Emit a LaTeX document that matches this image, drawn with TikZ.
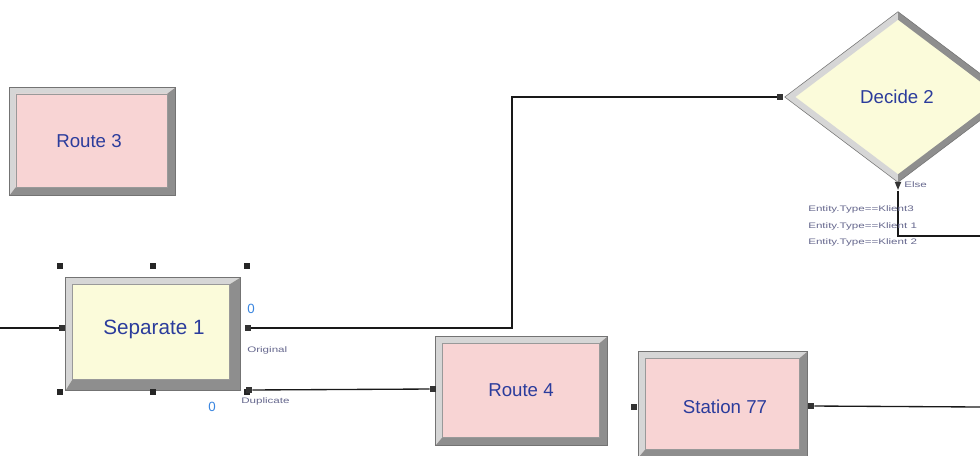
\documentclass[tikz,border=0pt]{standalone}
\usepackage{fontspec}
\usepackage{graphicx}
\setmainfont{Liberation Sans}
\newcommand\widetxt[1]{\scalebox{1.45}[1]{#1}}
\usetikzlibrary{shapes.geometric}
\definecolor{pinkfill}{HTML}{F8D4D4}
\definecolor{yelfill}{HTML}{FBFBDA}
\definecolor{lbl}{HTML}{2B3C9C}
\definecolor{bevL}{HTML}{D6D6D6}
\definecolor{bevD}{HTML}{8E8E8E}
\definecolor{zero}{HTML}{3A86E0}
\definecolor{tinytxt}{HTML}{66688E}
\tikzset{
 module/.style={rectangle, inner sep=0pt, text=lbl, font=\fontsize{14}{16}\selectfont},
 modtext/.style={inner sep=0pt, text=lbl, font=\fontsize{14}{16}\selectfont},
 conn/.style={draw=black!90, line width=1pt},
 port/.style={fill=black!80, minimum size=4.5pt, inner sep=0pt, rectangle},
 handle/.style={fill=black!85, minimum size=5pt, inner sep=0pt, rectangle},
 portlbl/.style={font=\fontsize{6}{7}\selectfont, text=tinytxt, inner sep=0pt, anchor=west},
 zerolbl/.style={font=\fontsize{10}{11}\selectfont, text=zero, inner sep=0pt},
}
\newcommand\bevel[3]{%
 \fill[bevL] (#1.north west) -- (#1.north east) -- ([shift={(-#3,-#2)}]#1.north east) -- ([shift={(#2,-#2)}]#1.north west) -- ([shift={(#2,#3)}]#1.south west) -- (#1.south west) -- cycle;
 \fill[bevD] (#1.south east) -- (#1.north east) -- ([shift={(-#3,-#2)}]#1.north east) -- ([shift={(-#3,#3)}]#1.south east) -- ([shift={(#2,#3)}]#1.south west) -- (#1.south west) -- cycle;
 \draw[black!55, line width=0.4pt] (#1.north west) rectangle (#1.south east);
 \draw[black!40, line width=0.3pt] ([shift={(#2,-#2)}]#1.north west) rectangle ([shift={(-#3,#3)}]#1.south east);
}
\begin{document}
\begin{tikzpicture}[x=0.75pt,y=-0.75pt]
\useasboundingbox (0,0) rectangle (980,456);
\fill[white] (0,0) rectangle (980,456);
\clip (0,0) rectangle (980,456);

% Route 3
\node[module, fill=pinkfill, minimum width=123.75pt, minimum height=80.25pt] (route3) at (92.5,141.5) {};
\bevel{route3}{4.5pt}{6pt}
\node[modtext] (route3txt) at (89,141) {Route 3};

% Separate 1
\node[module, fill=yelfill, minimum width=130.5pt, minimum height=84pt] (sep1) at (153,334) {};
\bevel{sep1}{5pt}{8pt}
\node[modtext, font=\fontsize{15.5}{17}\selectfont] (sep1txt) at (154,329) {Separate 1};

% Route 4
\node[module, fill=pinkfill, minimum width=128.25pt, minimum height=81pt] (route4) at (521.5,391) {};
\bevel{route4}{5pt}{6pt}
\node[modtext] (route4txt) at (521,390) {Route 4};

% Station 77
\node[module, fill=pinkfill, minimum width=126pt, minimum height=78.75pt] (st77) at (723,404.5) {};
\bevel{st77}{5pt}{6pt}
\node[modtext] (st77txt) at (725,407) {Station 77};

% Decide 2
\node[diamond, inner sep=0pt, fill=yelfill, minimum width=169.5pt, minimum height=127.5pt, aspect=1.33] (dec2) at (898,97) {};
\fill[bevL] (dec2.west) -- (dec2.north) -- ([yshift=-6pt]dec2.north) -- ([xshift=8pt]dec2.west) -- ([yshift=6pt]dec2.south) -- (dec2.south) -- cycle;
\fill[bevD] (dec2.east) -- (dec2.north) -- ([yshift=-6pt]dec2.north) -- ([xshift=-8pt]dec2.east) -- ([yshift=6pt]dec2.south) -- (dec2.south) -- cycle;
\draw[black!55, line width=0.4pt] (dec2.west) -- (dec2.north) -- (dec2.east) -- (dec2.south) -- cycle;
\node[modtext] (dec2txt) at (897,97) {Decide 2};

% selection handles
\node[handle] (h1) at (60,266) {};
\node[handle] (h2) at (153,266) {};
\node[handle] (h3) at (247,266) {};
\node[handle] (h4) at (60,392) {};
\node[handle] (h5) at (153,392) {};
\node[handle] (h6) at (247,392) {};

% ports
\node[port] (sep1in) at (62,328) {};
\node[port] (sep1orig) at (248,328) {};
\node[port] (sep1dup) at (249,390) {};
\node[port] (r4in) at (433,389) {};
\node[port] (st77in) at (634,407) {};
\node[port] (st77out) at (811,406) {};
\node[port] (dec2in) at (780,97) {};
\node[isosceles triangle, shape border rotate=-90, fill=black!80, minimum size=5pt, inner sep=0pt] (elseport) at (898,184) {};

% connector endpoints
\coordinate (inL) at (0,328);
\coordinate (bend1) at (512,97);
\coordinate (stR) at (980,407);
\coordinate (elseR) at (980,236);

% connectors
\draw[conn] (inL) -- (sep1in);
\draw[conn] (sep1orig) -| (bend1) -- (dec2in);
\draw[conn] (sep1dup) -- (r4in);
\draw[conn] (st77out) -- (stR);
\draw[conn] (elseport) |- (elseR);

% labels
\node[zerolbl] (z1) at (251,309) {0};
\node[zerolbl] (z2) at (212,407) {0};
\node[portlbl] (origlbl) at (247,350) {\widetxt{Original}};
\node[portlbl] (duplbl) at (241,401) {\widetxt{Duplicate}};
\node[portlbl] (elselbl) at (904,185) {\widetxt{Else}};
\node[portlbl] (e3) at (808,209) {\widetxt{Entity.Type==Klient3}};
\node[portlbl] (e1) at (808,226) {\widetxt{Entity.Type==Klient 1}};
\node[portlbl] (e2) at (808,242) {\widetxt{Entity.Type==Klient 2}};
\end{tikzpicture}
\end{document}
